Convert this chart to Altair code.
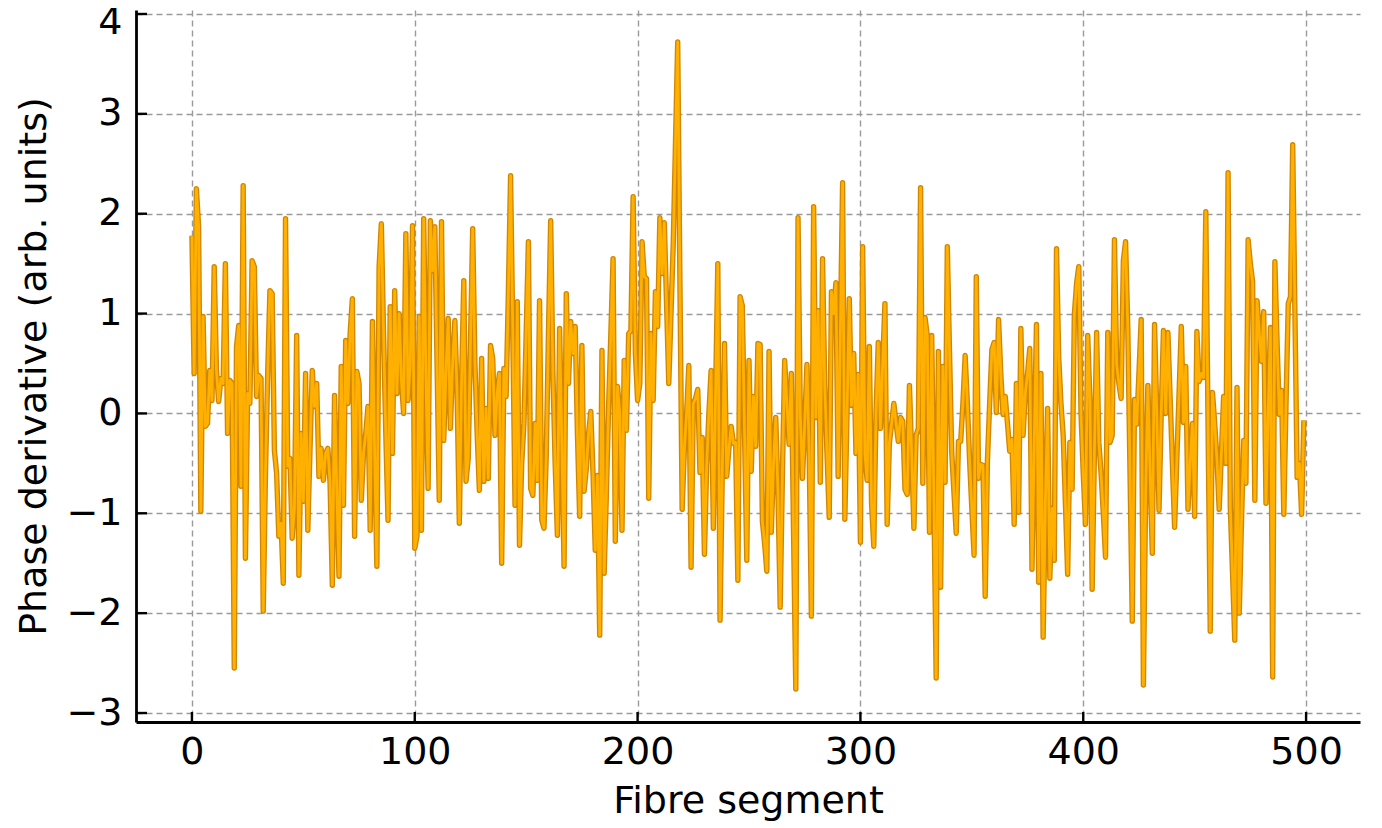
import altair as alt
import pandas as pd

# Phase derivative values, per fibre segment (0..499)
phase_000_099 = [
    1.78, 0.40, 2.25, 1.87, -0.98, 0.97, -0.13, -0.10, 0.43, 0.13,
    1.47, 0.43, 0.12, 0.35, 0.30, 1.50, -0.20, 0.33, 0.30, -2.55,
    0.67, 0.88, -0.73, 2.28, -1.45, 0.20, 0.10, 1.53, 1.47, 0.17,
    0.38, 0.35, -1.98, -0.60, 0.40, 1.23, 1.20, -0.37, -0.60, -1.23,
    -1.10, -1.70, 1.95, -0.53, -0.45, -1.25, -0.95, 0.78, -1.62, -0.20,
    -0.88, 0.40, -1.17, -0.35, 0.43, 0.07, 0.30, -0.63, -0.35, -0.67,
    -0.40, -0.35, -0.70, -1.72, 0.18, -0.75, -1.63, 0.47, -0.92, 0.73,
    0.10, 0.80, 1.15, -1.23, 0.42, 0.30, -0.87, -0.40, -0.20, 0.07,
    -1.17, 0.92, -0.40, -1.53, 1.47, 1.90, 0.80, -0.20, -1.07, 1.07,
    -0.40, 1.23, 0.20, 1.00, 0.33, 0.00, 1.80, 0.13, 0.50, 1.88,
]
phase_100_199 = [
    -1.35, -1.23, 0.97, -1.17, 1.95, 0.40, -0.75, 1.93, 1.43, 1.87,
    0.50, -0.87, 1.92, -0.27, 0.40, 0.95, -0.15, 0.50, 0.93, 0.20,
    -1.10, 0.30, 1.33, -0.68, -0.45, 0.70, 1.85, 0.50, -0.20, -0.77,
    0.55, -0.68, 0.05, -0.65, 0.68, 0.55, -0.22, 0.20, 0.40, -1.50,
    0.45, 0.17, 1.20, 2.38, 0.80, -0.92, 1.12, -1.32, -0.50, -0.10,
    0.80, 1.72, -0.75, -0.82, -0.10, -0.67, 1.13, -1.07, -1.15, -0.43,
    0.80, 1.93, 0.40, -0.50, -1.22, 0.85, -0.30, -1.53, 1.20, 0.30,
    0.92, 0.60, 0.87, -0.20, -1.03, 0.68, -0.78, -0.55, -0.20, 0.02,
    -0.60, -1.37, -0.62, -2.22, 0.63, -1.60, -0.80, 0.07, 0.80, 1.55,
    -1.28, 0.27, 0.00, -1.17, 0.53, -0.17, 0.80, 0.83, 2.17, 0.60,
]
phase_200_299 = [
    0.13, 0.30, 1.72, 1.37, 1.35, -0.85, 0.80, 0.13, 1.22, 0.87,
    1.96, 1.40, 1.91, 1.10, 0.30, 1.00, 1.70, 2.70, 3.72, 1.30,
    -0.96, -0.35, 0.00, 0.48, -1.54, 0.10, 0.15, 0.24, -0.59, -0.24,
    -1.41, -0.52, 0.00, 0.43, -1.15, 0.20, 1.50, -2.07, -0.60, 0.70,
    -0.63, -0.35, -0.13, -0.30, -0.29, -1.67, 1.17, 1.08, -0.20, -1.47,
    0.53, -0.58, 0.17, -0.33, 0.70, 0.69, -1.08, -1.30, -1.58, 0.62,
    -1.19, -0.51, -0.04, -0.80, -1.94, -0.60, 0.53, 0.10, -0.31, 0.40,
    -1.20, -2.76, 1.96, 0.00, -0.65, -0.10, 0.49, -0.40, -2.03, 2.07,
    -0.04, 1.03, -0.69, 1.55, 0.28, -0.40, -1.04, 1.22, 1.00, 1.31,
    -0.63, 0.80, 2.31, -1.06, 0.00, 1.15, 0.08, 0.60, -0.40, 0.39,
]
phase_300_399 = [
    -1.29, 1.67, -0.40, -0.67, 0.67, -0.90, -1.33, 0.00, 0.71, -0.15,
    0.50, 1.10, -1.11, -0.30, -0.10, 0.10, -0.10, -0.28, -0.04, -0.08,
    -0.76, -0.81, 0.28, -0.40, -1.15, -0.22, -0.15, 2.26, -0.70, 0.96,
    0.78, -1.19, 0.78, -0.90, -2.65, 0.62, -1.74, 0.47, -0.69, 1.67,
    0.60, -0.40, -0.80, -1.20, -0.28, -0.28, 0.10, 0.58, 0.10, -0.47,
    -0.95, -1.42, 1.37, -0.65, -0.51, -0.52, -1.83, -0.47, 0.10, 0.64,
    0.71, 0.01, 0.94, 0.40, -0.01, 0.17, -0.10, -0.38, -0.26, -1.11,
    0.30, -0.99, 0.85, -0.22, 0.20, 0.40, 0.65, -1.56, -0.30, 0.89,
    -1.69, 0.40, -2.24, -0.90, 0.05, -1.65, -0.95, -1.47, 1.65, 0.56,
    0.10, -0.22, -0.90, -1.61, -0.29, -0.76, 0.99, 1.30, 1.47, 0.00,
]
phase_400_499 = [
    -0.60, -1.11, 0.78, 0.14, -1.76, -0.40, 0.81, -0.29, -0.60, -1.00,
    -1.44, 0.81, -0.29, -0.22, 1.74, 0.49, 0.30, 0.15, 1.53, 1.72,
    0.85, -0.60, -2.08, 0.14, -0.11, 0.40, 0.94, -2.72, -0.80, 0.28,
    -0.60, -1.40, 0.89, 0.00, -0.97, 0.00, 0.83, 0.00, 0.81, 0.15,
    -0.50, -1.14, -0.46, 0.20, 0.87, -0.09, 0.47, -0.96, -0.50, -0.10,
    -1.03, 0.82, 0.32, 0.40, 0.36, 2.02, -0.10, -2.18, 0.21, -0.10,
    -0.46, -0.96, -0.40, 0.17, -0.50, 2.41, -0.94, -1.60, -2.27, 0.26,
    -2.00, -1.10, -0.27, -0.70, 1.74, 1.50, 1.32, -0.87, 1.13, 0.80,
    0.52, 1.02, -0.90, 0.00, 0.86, -2.64, 1.52, 0.70, -0.01, 0.23,
    -1.01, 0.10, 1.10, 1.17, 2.69, 1.00, -0.64, -0.50, -1.01, -0.07,
]

phase = phase_000_099 + phase_100_199 + phase_200_299 + phase_300_399 + phase_400_499
segment = list(range(len(phase)))

x_ticks = [0, 100, 200, 300, 400, 500]
y_ticks = [-3, -2, -1, 0, 1, 2, 3, 4]

W, H = 1224, 712
FONT = "DejaVu Sans"

df = pd.DataFrame({"segment": segment, "phase": phase})
xs = alt.Scale(domain=[-25.1, 524.2], nice=False, zero=False)
ys = alt.Scale(domain=[-3.09, 4.04], nice=False, zero=False)

x_axis = alt.Axis(values=x_ticks, title="Fibre segment", format="d")
y_axis = alt.Axis(values=y_ticks, title="Phase derivative (arb. units)", format="d",
                  labelFlush=6, labelFlushOffset=10)

outer = alt.Chart(df).mark_line(color="#d08700", strokeWidth=5.4, strokeJoin="round").encode(
    x=alt.X("segment:Q", scale=xs, axis=x_axis),
    y=alt.Y("phase:Q", scale=ys, axis=y_axis),
)
inner = alt.Chart(df).mark_line(color="#ffb000", strokeWidth=2.8, strokeJoin="round").encode(
    x=alt.X("segment:Q", scale=xs),
    y=alt.Y("phase:Q", scale=ys),
)

xt = alt.Chart(pd.DataFrame({"segment": x_ticks})).mark_rule(color="black", strokeWidth=2.4).encode(
    x=alt.X("segment:Q", scale=xs),
    y=alt.value(H),
    y2=alt.value(H - 10),
)
yt = alt.Chart(pd.DataFrame({"phase": y_ticks})).mark_rule(color="black", strokeWidth=2.4).encode(
    y=alt.Y("phase:Q", scale=ys),
    x=alt.value(0),
    x2=alt.value(11),
)

chart = alt.layer(outer, inner, xt, yt).properties(
    width=W,
    height=H,
    autosize=alt.AutoSizeParams(type="none"),
    padding={"left": 128, "top": 2, "right": 14, "bottom": 104},
).configure_view(
    stroke=None
).configure_axis(
    grid=True,
    gridColor="#9a9a9a",
    gridDash=[6, 4],
    gridWidth=1.4,
    ticks=False,
    domainColor="black",
    domainWidth=2.8,
    labelFont=FONT,
    titleFont=FONT,
    labelFontSize=38,
    titleFontSize=38,
    labelColor="black",
    titleColor="black",
    titleFontWeight="normal",
).configure_axisX(
    labelPadding=11,
    titlePadding=11,
).configure_axisY(
    labelPadding=14,
    titlePadding=12,
)

chart.save("out.html", embed_options={"renderer": "svg", "actions": False})
